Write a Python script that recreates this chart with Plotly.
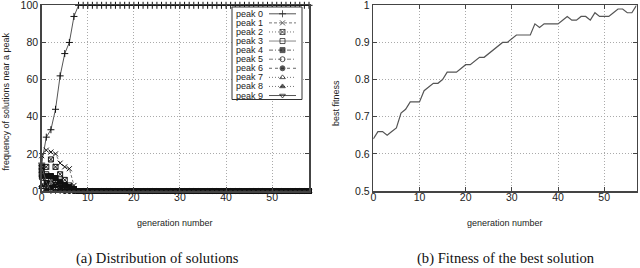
import plotly.graph_objects as go

# ---------------- data ----------------
generations = list(range(59))

peak0 = [15, 29, 33, 44, 62, 74, 80, 94, 100, 100,
         100, 100, 100, 100, 100, 100, 100, 100, 100, 100,
         100, 100, 100, 100, 100, 100, 100, 100, 100, 100,
         100, 100, 100, 100, 100, 100, 100, 100, 100, 100,
         100, 100, 100, 100, 100, 100, 100, 100, 100, 100,
         100, 100, 100, 100, 100, 100, 100, 100, 100]
peak1 = [19, 22, 21, 20, 15, 13, 12, 3, 0, 0,
         0, 0, 0, 0, 0, 0, 0, 0, 0, 0, 0, 0, 0, 0, 0, 0, 0, 0, 0, 0,
         0, 0, 0, 0, 0, 0, 0, 0, 0, 0, 0, 0, 0, 0, 0, 0, 0, 0, 0, 0,
         0, 0, 0, 0, 0, 0, 0, 0, 0]
peak2 = [13, 13, 17, 13, 9, 6, 3, 1, 0, 0,
         0, 0, 0, 0, 0, 0, 0, 0, 0, 0, 0, 0, 0, 0, 0, 0, 0, 0, 0, 0,
         0, 0, 0, 0, 0, 0, 0, 0, 0, 0, 0, 0, 0, 0, 0, 0, 0, 0, 0, 0,
         0, 0, 0, 0, 0, 0, 0, 0, 0]
peak3 = [9, 9, 8, 6, 4, 3, 2, 1, 0, 0,
         0, 0, 0, 0, 0, 0, 0, 0, 0, 0, 0, 0, 0, 0, 0, 0, 0, 0, 0, 0,
         0, 0, 0, 0, 0, 0, 0, 0, 0, 0, 0, 0, 0, 0, 0, 0, 0, 0, 0, 0,
         0, 0, 0, 0, 0, 0, 0, 0, 0]
peak4 = [11, 8, 8, 7, 5, 3, 2, 1, 0, 0,
         0, 0, 0, 0, 0, 0, 0, 0, 0, 0, 0, 0, 0, 0, 0, 0, 0, 0, 0, 0,
         0, 0, 0, 0, 0, 0, 0, 0, 0, 0, 0, 0, 0, 0, 0, 0, 0, 0, 0, 0,
         0, 0, 0, 0, 0, 0, 0, 0, 0]
peak5 = [7, 6, 4, 3, 2, 1, 1, 0, 0, 0,
         0, 0, 0, 0, 0, 0, 0, 0, 0, 0, 0, 0, 0, 0, 0, 0, 0, 0, 0, 0,
         0, 0, 0, 0, 0, 0, 0, 0, 0, 0, 0, 0, 0, 0, 0, 0, 0, 0, 0, 0,
         0, 0, 0, 0, 0, 0, 0, 0, 0]
peak6 = [8, 4, 2, 3, 2, 0, 0, 0, 0, 0,
         0, 0, 0, 0, 0, 0, 0, 0, 0, 0, 0, 0, 0, 0, 0, 0, 0, 0, 0, 0,
         0, 0, 0, 0, 0, 0, 0, 0, 0, 0, 0, 0, 0, 0, 0, 0, 0, 0, 0, 0,
         0, 0, 0, 0, 0, 0, 0, 0, 0]
peak7 = [2, 3, 5, 4, 1, 0, 0, 0, 0, 0,
         0, 0, 0, 0, 0, 0, 0, 0, 0, 0, 0, 0, 0, 0, 0, 0, 0, 0, 0, 0,
         0, 0, 0, 0, 0, 0, 0, 0, 0, 0, 0, 0, 0, 0, 0, 0, 0, 0, 0, 0,
         0, 0, 0, 0, 0, 0, 0, 0, 0]
peak8 = [3, 1, 2, 0, 0, 0, 0, 0, 0, 0,
         0, 0, 0, 0, 0, 0, 0, 0, 0, 0, 0, 0, 0, 0, 0, 0, 0, 0, 0, 0,
         0, 0, 0, 0, 0, 0, 0, 0, 0, 0, 0, 0, 0, 0, 0, 0, 0, 0, 0, 0,
         0, 0, 0, 0, 0, 0, 0, 0, 0]
peak9 = [13, 5, 0, 0, 0, 0, 0, 0, 0, 0,
         0, 0, 0, 0, 0, 0, 0, 0, 0, 0, 0, 0, 0, 0, 0, 0, 0, 0, 0, 0,
         0, 0, 0, 0, 0, 0, 0, 0, 0, 0, 0, 0, 0, 0, 0, 0, 0, 0, 0, 0,
         0, 0, 0, 0, 0, 0, 0, 0, 0]

fitness_generations = list(range(58))
best_fitness = [0.64, 0.66, 0.66, 0.65, 0.66, 0.67, 0.71, 0.72, 0.74, 0.74,
                0.74, 0.77, 0.78, 0.79, 0.79, 0.80, 0.82, 0.82, 0.82, 0.83,
                0.84, 0.84, 0.85, 0.86, 0.86, 0.87, 0.88, 0.89, 0.90, 0.90,
                0.91, 0.92, 0.92, 0.92, 0.92, 0.95, 0.94, 0.95, 0.95, 0.95,
                0.95, 0.96, 0.97, 0.96, 0.96, 0.97, 0.97, 0.96, 0.98, 0.97,
                0.97, 0.97, 0.98, 0.99, 0.99, 0.98, 0.98, 1.00]

series_names = ["peak 0", "peak 1", "peak 2", "peak 3", "peak 4",
                "peak 5", "peak 6", "peak 7", "peak 8", "peak 9"]
series_values = [peak0, peak1, peak2, peak3, peak4, peak5, peak6, peak7, peak8, peak9]

left_xticks = [0, 10, 20, 30, 40, 50]
left_yticks = [0, 20, 40, 60, 80, 100]
right_yticks = [0.5, 0.6, 0.7, 0.8, 0.9, 1.0]
right_yticklabels = ["0.5", "0.6", "0.7", "0.8", "0.9", "1"]

# ---------------- styles ----------------
symbols = ["cross-thin", "x-thin", "square-x-open", "square-open", "square",
           "circle-open", "circle", "triangle-up-open", "triangle-up", "triangle-down-open"]
dashes = ["solid", "3px,2px", "1px,2px", "solid", "4px,2px,1px,2px",
          "4px,2px,1px,2px", "3px,3px", "1px,2px", "1px,2px", "solid"]
line_colors = ["#555", "#777", "#777", "#888", "#666", "#777", "#666", "#777", "#777", "#555"]
msize = [5, 5, 5, 5, 5, 5, 5, 5, 5, 5]

W, H = 640, 268
def px_x(v):
    return v / W
def px_y(v):
    return 1 - v / H

fig = go.Figure()

for name, vals, sym, dash, lc, ms in zip(series_names, series_values, symbols, dashes, line_colors, msize):
    fig.add_trace(go.Scatter(
        x=generations, y=vals, mode="lines+markers", name=name,
        line=dict(color=lc, width=1, dash=dash),
        marker=dict(symbol=sym, size=ms, color="#111", line=dict(color="#111", width=1)),
        xaxis="x", yaxis="y", showlegend=False, cliponaxis=False))

fig.add_trace(go.Scatter(
    x=fitness_generations, y=best_fitness, mode="lines",
    line=dict(color="#555", width=1.2), xaxis="x2", yaxis="y2", showlegend=False))

# ---------------- custom gnuplot-like key (pixel-space overlay axis) ----------------
box_l, box_r, box_t, box_b = 232, 302, 7, 99.5
fig.add_trace(go.Scatter(
    x=[box_l, box_r, box_r, box_l, box_l], y=[box_t, box_t, box_b, box_b, box_t],
    mode="lines", fill="toself", fillcolor="white",
    line=dict(color="#333", width=1), xaxis="x3", yaxis="y3",
    showlegend=False, hoverinfo="skip"))

row0, row_step = 13.8, 9.08
for i, (name, sym, dash, lc, ms) in enumerate(zip(series_names, symbols, dashes, line_colors, msize)):
    ry = row0 + i * row_step
    fig.add_trace(go.Scatter(
        x=[269, 282.5, 296], y=[ry, ry, ry], mode="lines+markers",
        line=dict(color=lc, width=1, dash=dash),
        marker=dict(symbol=sym, size=[0, ms, 0], color="#111", line=dict(color="#111", width=1)),
        xaxis="x3", yaxis="y3", showlegend=False, hoverinfo="skip"))
    fig.add_annotation(text=name, xref="paper", yref="paper", x=px_x(265), y=px_y(ry),
                       xanchor="right", yanchor="middle", showarrow=False,
                       font=dict(family="Liberation Sans, Arial", size=9, color="#222"))

axis_common = dict(showline=True, linecolor="#444", linewidth=1.5, mirror="ticks",
                   ticks="inside", ticklen=4, tickcolor="#444", tickwidth=1,
                   showgrid=True, gridcolor="#aaa", griddash="1px,2px", gridwidth=1,
                   zeroline=False, automargin=False, ticklabeloverflow="allow",
                   tickfont=dict(family="Liberation Sans, Arial", size=10.5, color="#222"))

ydom = [px_y(191), px_y(5.3)]
fig.update_layout(
    width=W, height=H,
    margin=dict(l=0, r=0, t=0, b=0),
    paper_bgcolor="white", plot_bgcolor="rgba(0,0,0,0)",
    showlegend=False,
    xaxis=dict(domain=[px_x(41.7), px_x(309)], range=[0, 58], tickvals=left_xticks, anchor="y",
               ticklabelstandoff=-4, **axis_common),
    yaxis=dict(domain=ydom, range=[0, 100], tickvals=left_yticks, anchor="x", **axis_common),
    xaxis2=dict(domain=[px_x(373.3), px_x(636.5)], range=[0, 57], tickvals=left_xticks, anchor="y2",
                ticklabelstandoff=-4, **axis_common),
    yaxis2=dict(domain=ydom, range=[0.5, 1.0], tickvals=right_yticks, ticktext=right_yticklabels, anchor="x2", **axis_common),
    xaxis3=dict(domain=[0, 1], range=[0, W], visible=False, anchor="y3", fixedrange=True),
    yaxis3=dict(domain=[0, 1], range=[H, 0], visible=False, anchor="x3", fixedrange=True),
)

title_font = dict(family="Liberation Sans, Arial", size=9, color="#222")
fig.add_annotation(text="generation number", xref="paper", yref="paper", x=px_x(175), y=px_y(223),
                   xanchor="center", yanchor="middle", showarrow=False, font=title_font)
fig.add_annotation(text="generation number", xref="paper", yref="paper", x=px_x(505), y=px_y(223),
                   xanchor="center", yanchor="middle", showarrow=False, font=title_font)
fig.add_annotation(text="frequency of solutions near a peak", xref="paper", yref="paper",
                   x=px_x(5.5), y=px_y(102), textangle=-90,
                   xanchor="center", yanchor="middle", showarrow=False, font=title_font)
fig.add_annotation(text="best fitness", xref="paper", yref="paper",
                   x=px_x(336), y=px_y(103), textangle=-90,
                   xanchor="center", yanchor="middle", showarrow=False, font=title_font)

cap_font = dict(family="Liberation Serif, Times New Roman", size=14.6, color="#111")
fig.add_annotation(text="(a) Distribution of solutions", xref="paper", yref="paper",
                   x=px_x(157.5), y=px_y(258), xanchor="center", yanchor="middle",
                   showarrow=False, font=cap_font)
fig.add_annotation(text="(b) Fitness of the best solution", xref="paper", yref="paper",
                   x=px_x(506), y=px_y(258), xanchor="center", yanchor="middle",
                   showarrow=False, font=cap_font)

fig.write_html("out.html", config={"displayModeBar": False, "staticPlot": True},
               post_script="document.body.style.margin='0';document.body.style.overflow='hidden';")
